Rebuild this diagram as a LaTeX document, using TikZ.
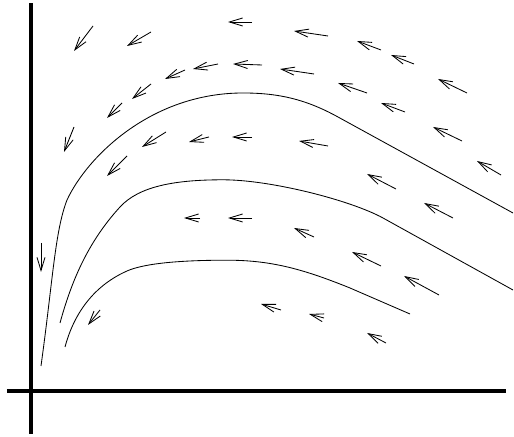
\documentclass[tikz,border=0pt]{standalone}
\usetikzlibrary{arrows.meta}
\tikzset{
  axis/.style={line width=2.2pt},
  orbit/.style={line width=0.6pt},
  flow/.style={line width=0.6pt, -{Straight Barb[length=3.3mm, width=2mm]}}
}
\begin{document}
\begin{tikzpicture}
  \useasboundingbox (-0.775,-1.15) rectangle (12.075,9.775);

  % axes
  \draw [axis] (0,-1.075) -- (0,9.7);
  \draw [axis] (-0.6,0) -- (11.875,0);

  % outer orbit
  \draw [orbit] (0.25,0.625) .. controls (0.55,2.8) and (0.6,4.0) .. (0.9,4.775)
    .. controls (1.4,5.85) and (3.0,7.45) .. (5.3,7.45)
    .. controls (6.2,7.45) and (6.875,7.29) .. (7.675,6.85)
    -- (12.05,4.45);

  % middle orbit
  \draw [orbit] (0.725,1.7) .. controls (1.0,2.7) and (1.4,3.7) .. (2.225,4.6)
    .. controls (2.7,5.12) and (3.6,5.28) .. (4.8,5.28)
    .. controls (6.0,5.28) and (8.0,4.765) .. (8.8,4.325)
    -- (12.05,2.525);

  % inner orbit
  \draw [orbit] (0.85,1.1) .. controls (1.05,1.85) and (1.5,2.6) .. (2.4,3.0)
    .. controls (2.85,3.2) and (3.8,3.27) .. (4.9,3.27)
    .. controls (6.0,3.27) and (6.8,3.05) .. (7.975,2.575)
    -- (9.475,1.925);

  % direction field (tail/head)
  \foreach \tx/\ty/\hx/\hy in {
      1.55/9.125/1.075/8.5, 3.0/8.975/2.4/8.625, 5.525/9.225/4.925/9.225,
      4.675/8.175/4.05/8.05, 3.85/8.025/3.35/7.8, 3.0/7.675/2.525/7.3,
      2.275/7.2/1.9/6.825, 1.075/6.6/0.825/5.975, 3.375/6.475/2.775/6.1,
      4.45/6.35/3.95/6.225, 5.525/6.35/5.025/6.35, 2.4/5.875/1.9/5.375,
      5.775/8.15/5.05/8.175, 7.425/8.875/6.575/9.0, 8.75/8.525/8.15/8.75,
      9.575/8.175/9.0/8.4, 7.075/7.925/6.225/8.05, 8.4/7.45/7.675/7.7,
      10.9/7.45/10.175/7.8, 9.35/6.975/8.75/7.2, 7.425/6.125/6.7/6.25,
      10.775/6.25/10.05/6.6, 11.75/5.4/11.15/5.75, 9.125/5.05/8.4/5.425,
      10.55/4.325/9.825/4.7, 4.225/4.325/3.825/4.325, 5.525/4.325/4.925/4.325,
      0.25/3.7/0.25/2.975, 1.725/2.025/1.425/1.65, 7.075/3.85/6.575/4.075,
      8.75/3.125/8.025/3.475, 10.2/2.4/9.325/2.875, 6.25/2.025/5.75/2.175,
      7.325/1.825/6.95/1.925, 8.875/1.2/8.4/1.45}
    \draw [flow] (\tx,\ty) -- (\hx,\hy);
\end{tikzpicture}
\end{document}
